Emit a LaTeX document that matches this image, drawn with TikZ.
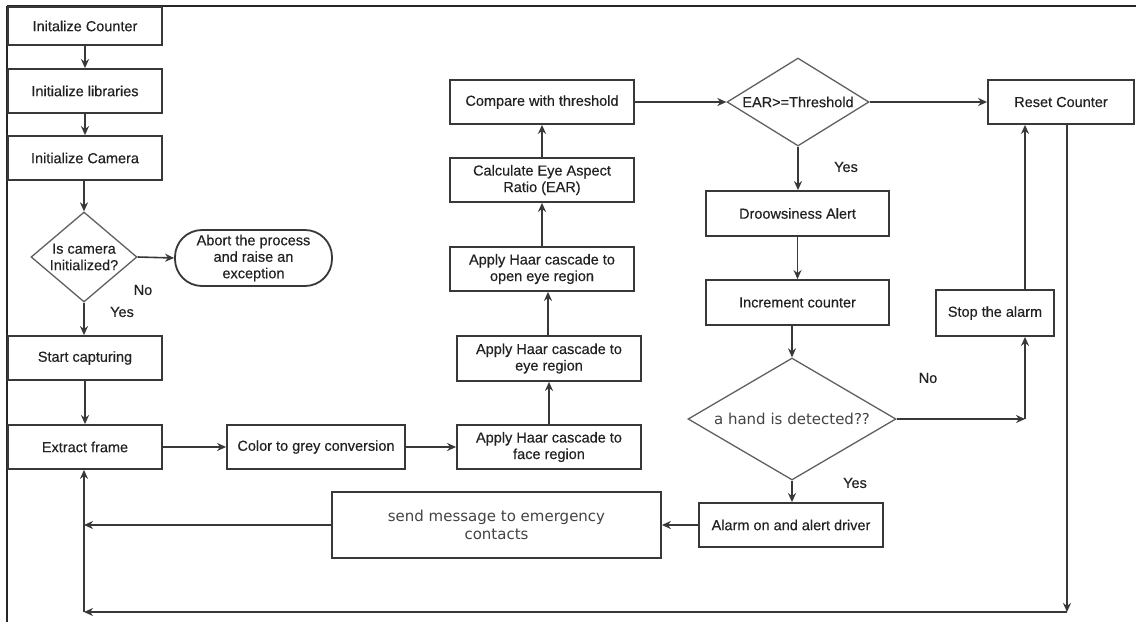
\documentclass[tikz,border=0pt]{standalone}
\usepackage{fontspec}
\setmainfont{Liberation Sans}
\newfontfamily\boxfont[FakeBold=0.35]{Liberation Sans}
\newfontfamily\dvfont{DejaVu Sans}
\usetikzlibrary{arrows.meta,shapes.geometric}
\definecolor{linec}{HTML}{383838}
\definecolor{txtc}{HTML}{222222}
\definecolor{dvtxt}{HTML}{444444}
\begin{document}
\begin{tikzpicture}[x=1pt,y=-1pt,
  box/.style={draw=linec, line width=1.8pt, text=txtc, align=center, inner sep=1pt,
    font=\boxfont\fontsize{14.5}{16.5}\selectfont},
  dia/.style={draw=linec!80, line width=1.3pt, diamond, inner sep=0pt},
  dtext/.style={text=txtc, align=center, inner sep=0pt, font=\boxfont\fontsize{14.5}{16.5}\selectfont},
  lab/.style={text=txtc, inner sep=0pt, font=\boxfont\fontsize{14.5}{16.5}\selectfont},
  arr/.style={draw=linec, line width=1.6pt, -{Stealth[length=9pt,width=8pt]}}
]
\useasboundingbox (0,0) rectangle (1136,622);
\fill[white] (0,0) rectangle (1136,622);
% frame
\draw[line width=2.6pt, draw=black!85] (7,6) -- (1136,6);
\draw[line width=2.2pt, draw=black!85] (7,6) -- (7,622);

% left column
\node[box, minimum width=154, minimum height=38] (ic) at (85,26) {Initalize Counter};
\node[box, minimum width=154, minimum height=44] (il) at (85,91) {Initialize libraries};
\node[box, minimum width=154, minimum height=44] (icam) at (85,158) {Initialize Camera};
\node[dia, minimum width=106, minimum height=90] (d1) at (84,257) {};
\node[dtext] (d1t) at (84,257) {Is camera\\Initialized?};
\node[box, rounded corners=27, minimum width=157, minimum height=56] (abort) at (253.5,258)
  {Abort the process\\and raise an\\exception};
\node[box, minimum width=154, minimum height=44] (start) at (85,358) {Start capturing};
\node[box, minimum width=154, minimum height=44] (extract) at (85,447) {Extract frame};
\node[box, minimum width=178, minimum height=44] (color) at (316,447) {Color to grey conversion};

% middle column
\node[box, minimum width=184, minimum height=44] (face) at (549,447) {Apply Haar cascade to\\face region};
\node[box, minimum width=184, minimum height=45] (eye) at (549,358.5) {Apply Haar cascade to\\eye region};
\node[box, minimum width=184, minimum height=44] (open) at (542,269) {Apply Haar cascade to\\open eye region};
\node[box, minimum width=184, minimum height=44] (ear) at (542,180) {Calculate Eye Aspect\\Ratio (EAR)};
\node[box, minimum width=184, minimum height=44] (comp) at (542,102) {Compare with threshold};

% right part
\node[dia, minimum width=142, minimum height=88] (dear) at (798,102) {};
\node[dtext] (deart) at (798,102) {EAR>=Threshold};
\node[box, minimum width=146, minimum height=44] (reset) at (1061,102) {Reset Counter};
\node[box, minimum width=183, minimum height=45] (drowsy) at (797.5,213.5) {Droowsiness Alert};
\node[box, minimum width=183, minimum height=45] (incr) at (797.5,302.5) {Increment counter};
\node[dia, minimum width=208, minimum height=122] (dhand) at (792,419) {};
\node[text=dvtxt, inner sep=0pt, font=\dvfont\fontsize{15}{17}\selectfont] (dhandt) at (792,419) {a hand is detected??};
\node[box, minimum width=118, minimum height=46] (stop) at (995,313) {Stop the alarm};
\node[box, minimum width=184, minimum height=44] (alarm) at (791,525) {Alarm on and alert driver};
\node[box, text=dvtxt, minimum width=329, minimum height=66, font=\dvfont\fontsize{15}{17.5}\selectfont] (send) at (496.5,525)
  {send message to emergency\\contacts};

% labels
\node[lab] (no1) at (143,290) {No};
\node[lab] (yes1) at (122,312) {Yes};
\node[lab] (yes2) at (846,167) {Yes};
\node[lab] (no2) at (928,378) {No};
\node[lab] (yes3) at (855,483) {Yes};

% helper coordinates
\coordinate (c1) at (1025,419);
\coordinate (c2) at (1067,612);
\coordinate (c3) at (84,612);

% connectors
\draw[arr] (ic) -- (il);
\draw[arr] (il) -- (icam);
\draw[arr] (d1.north |- icam.south) -- (d1.north);
\draw[arr] (d1.east) -- (abort.west);
\draw[arr] (d1.south) -- (d1.south |- start.north);
\draw[arr] (start) -- (extract);
\draw[arr] (extract) -- (color);
\draw[arr] (color) -- (face);
\draw[arr] (face) -- (eye);
\draw[arr] (eye.north -| 548,0) -- (open.south -| 548,0);
\draw[arr] (open) -- (ear);
\draw[arr] (ear) -- (comp);
\draw[arr] (comp.east) -- (dear.west);
\draw[arr] (dear.east) -- (reset.west);
\draw[arr] (dear.south) -- (dear.south |- drowsy.north);
\draw[arr] (drowsy) -- (incr);
\draw[arr] (dhand.north |- incr.south) -- (dhand.north);
\draw[arr] (dhand.south) -- (dhand.south |- alarm.north);
\draw[arr] (dhand.east) -- (c1);
\draw[arr] (c1) -- (stop.south -| c1);
\draw[arr] (stop.north -| c1) -- (reset.south -| c1);
\draw[arr] (reset.south -| c2) -- (c2);
\draw[arr] (c2) -- (c3);
\draw[arr] (c3) -- (c3 |- extract.south);
\draw[arr] (alarm) -- (send);
\draw[arr] (send.west) -- (send.west -| c3);
\end{tikzpicture}
\end{document}
